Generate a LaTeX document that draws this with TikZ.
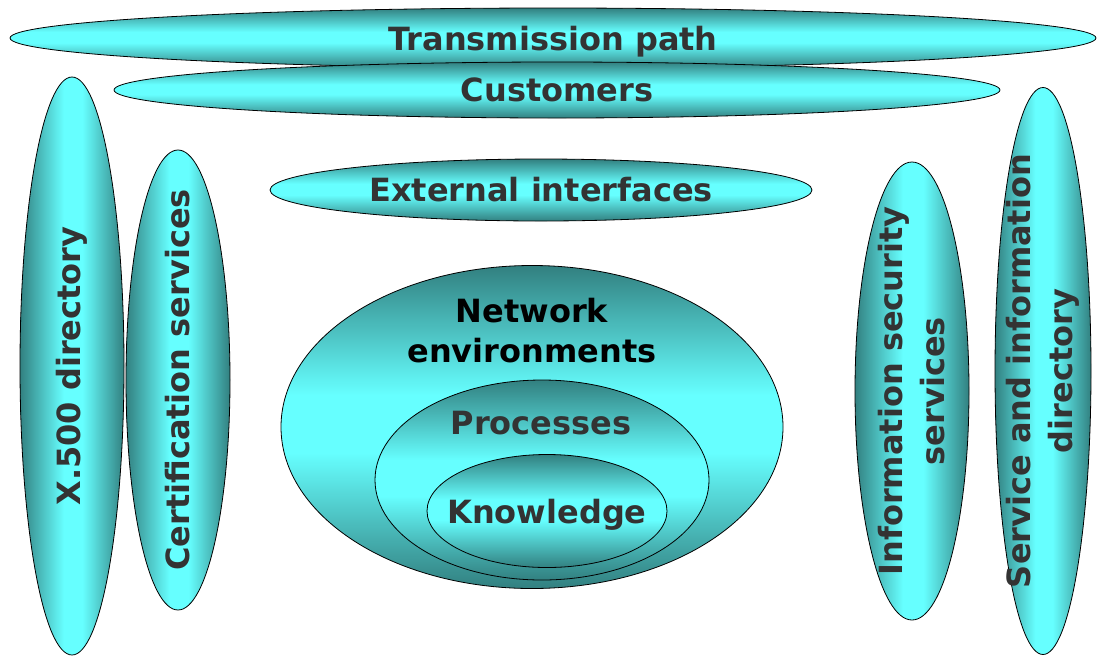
\documentclass[tikz,border=0pt]{standalone}
\usepackage{fontspec}
\setmainfont{DejaVu Sans}
\usetikzlibrary{shapes.geometric,positioning}
\definecolor{deepteal}{RGB}{50,128,128}
\definecolor{aqua}{RGB}{102,255,255}
\definecolor{inkgray}{RGB}{51,51,51}
\pgfdeclareverticalshading{flatglow}{100bp}{color(0bp)=(deepteal); color(25bp)=(deepteal); color(46bp)=(aqua); color(55bp)=(aqua); color(75bp)=(deepteal); color(100bp)=(deepteal)}
\pgfdeclarehorizontalshading{sideglow}{100bp}{color(0bp)=(deepteal); color(25bp)=(deepteal); color(46bp)=(aqua); color(55bp)=(aqua); color(75bp)=(deepteal); color(100bp)=(deepteal)}

\begin{document}
\begin{tikzpicture}[
        x=1pt, y=-1pt,
        oval/.style={ellipse, draw, line width=0.8pt, inner sep=0pt, shading=flatglow},
        upright/.style={ellipse, draw, line width=0.8pt, inner sep=0pt, shading=sideglow},
        lbl/.style={font=\bfseries\fontsize{32}{42}\selectfont, text=inkgray, align=center},
    ]
        \useasboundingbox (0,0) rectangle (1097,657);

        \node[oval, lbl, text depth=0pt, minimum width=1086pt, minimum height=60pt] (path) at (553,38) {Transmission path};
        \node[oval, lbl, minimum width=886pt, minimum height=56pt] (cust) at (557,90) {Customers};
        \node[oval, lbl, minimum width=542pt, minimum height=62pt] (ext) at (541,190) {External interfaces};

        \node[upright, minimum width=104pt, minimum height=578pt] (xdir) at (72,366) {};
        \node[lbl, rotate=90] (xdirlbl) at (xdir) {X.500 directory};
        \node[upright, minimum width=104pt, minimum height=460pt] (cert) at (178,380) {};
        \node[lbl, rotate=90] (certlbl) at (cert) {Certification services};
        \node[upright, minimum width=114pt, minimum height=458pt] (infosec) at (912,391) {};
        \node[lbl, rotate=90] (infoseclbl) at (infosec) {Information security\\services};
        \node[upright, minimum width=96pt, minimum height=567pt] (svcdir) at (1043,371) {};
        \node[lbl, rotate=90] (svcdirlbl) at (svcdir) {Service and information\\directory};

        \node[oval, minimum width=502pt, minimum height=323pt] (net) at (532,427) {};
        \node[oval, minimum width=334pt, minimum height=200pt] (proc) at (542,480) {};
        \node[oval, minimum width=240pt, minimum height=113pt] (know) at (547,511) {};
        \node[lbl, text=black, font=\bfseries\fontsize{32}{40}\selectfont] (netlbl) at (532,331) {Network\\environments};
        \node[lbl] (proclbl) at (541,423) {Processes};
        \node[lbl, text depth=0pt] (knowlbl) at (know) {Knowledge};
\end{tikzpicture}
\end{document}
